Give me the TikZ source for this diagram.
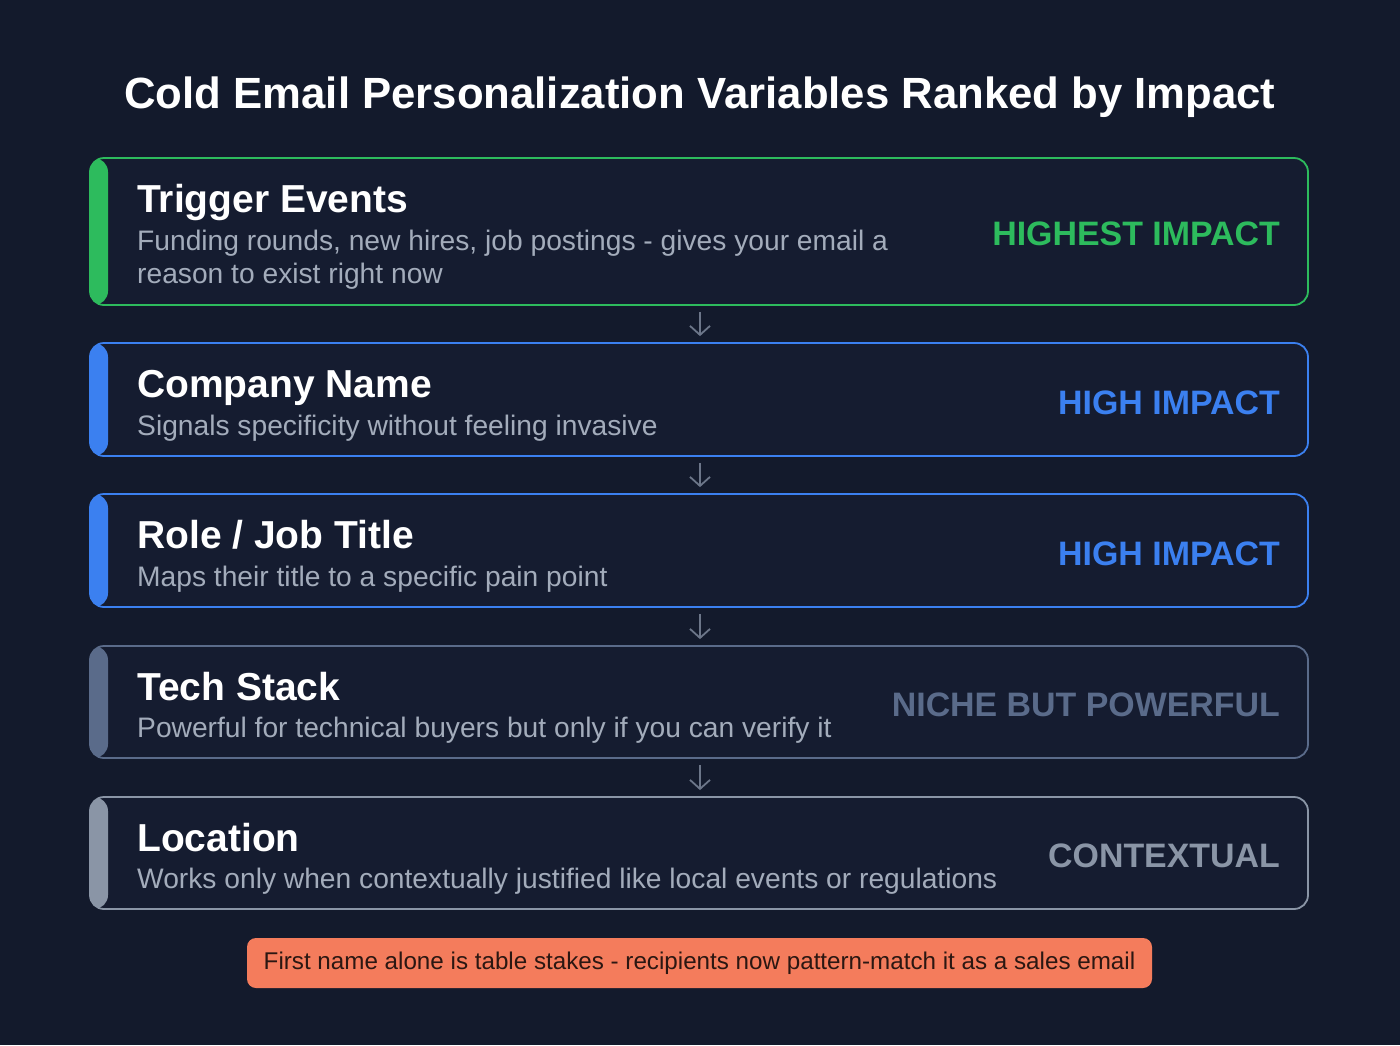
\documentclass[tikz,border=0pt]{standalone}
\usepackage{fontspec}
\setmainfont{Liberation Sans}
\usetikzlibrary{arrows.meta}
\definecolor{bgc}{HTML}{131A2C}
\definecolor{cardbg}{HTML}{151C30}
\definecolor{cgreen}{HTML}{2DBB5D}
\definecolor{cblue}{HTML}{3B80F0}
\definecolor{cslate}{HTML}{5A6B8A}
\definecolor{cgray}{HTML}{8A95A6}
\definecolor{subtxt}{HTML}{A3ACBB}
\definecolor{arrowc}{HTML}{6C7689}
\definecolor{coral}{HTML}{F47C5C}
\definecolor{notetxt}{HTML}{2B1712}
\begin{document}
\begin{tikzpicture}[x=1pt,y=-1pt,
  card/.style={rounded corners=14pt, fill=cardbg, draw=#1, line width=1.8pt,
    path picture={\fill[#1] (path picture bounding box.north west) rectangle ([xshift=18pt]path picture bounding box.south west);}},
  headtxt/.style={anchor=base west, inner sep=0pt, text=white, font=\fontsize{39}{44}\selectfont\bfseries},
  subtext/.style={anchor=base west, inner sep=0pt, text=subtxt, font=\fontsize{28.2}{33.5}\selectfont, align=left},
  tag/.style={anchor=base east, inner sep=0pt, font=\fontsize{33.9}{40}\selectfont\bfseries, text=#1},
  conn/.style={draw=arrowc, line width=1.8pt, -{Straight Barb[length=9pt,width=20pt,line width=1.8pt]}}
]
\fill[bgc] (0,0) rectangle (1400,1045);
\useasboundingbox (0,0) rectangle (1400,1045);

\node[anchor=base, inner sep=0pt, text=white, font=\fontsize{43.7}{50}\selectfont\bfseries] (title) at (700,108) {Cold Email Personalization Variables Ranked by Impact};

\node[card=cgreen, minimum width=1218pt, minimum height=147pt] (b1) at (699,231.5) {};
\node[card=cblue, minimum width=1218pt, minimum height=113pt] (b2) at (699,399.5) {};
\node[card=cblue, minimum width=1218pt, minimum height=113pt] (b3) at (699,550.5) {};
\node[card=cslate, minimum width=1218pt, minimum height=112pt] (b4) at (699,702) {};
\node[card=cgray, minimum width=1218pt, minimum height=112pt] (b5) at (699,853) {};

\node[headtxt] (h1) at (137,212) {Trigger Events};
\node[subtext] (s1a) at (137,250) {Funding rounds, new hires, job postings - gives your email a};
\node[subtext] (s1b) at (137,283) {reason to exist right now};
\node[tag=cgreen] (t1) at (1280,245) {HIGHEST IMPACT};

\node[headtxt] (h2) at (137,397) {Company Name};
\node[subtext] (s2) at (137,435) {Signals specificity without feeling invasive};
\node[tag=cblue] (t2) at (1280,414) {HIGH IMPACT};

\node[headtxt] (h3) at (137,548) {Role / Job Title};
\node[subtext] (s3) at (137,586) {Maps their title to a specific pain point};
\node[tag=cblue] (t3) at (1280,565) {HIGH IMPACT};

\node[headtxt] (h4) at (137,700) {Tech Stack};
\node[subtext] (s4) at (137,737) {Powerful for technical buyers but only if you can verify it};
\node[tag=cslate] (t4) at (1280,716) {NICHE BUT POWERFUL};

\node[headtxt] (h5) at (137,851) {Location};
\node[subtext] (s5) at (137,888) {Works only when contextually justified like local events or regulations};
\node[tag=cgray] (t5) at (1280,867) {CONTEXTUAL};

\draw[conn] ([xshift=1pt,yshift=-6pt]b1.south) -- ([xshift=1pt,yshift=6pt]b2.north);
\draw[conn] ([xshift=1pt,yshift=-6pt]b2.south) -- ([xshift=1pt,yshift=6pt]b3.north);
\draw[conn] ([xshift=1pt,yshift=-6pt]b3.south) -- ([xshift=1pt,yshift=6pt]b4.north);
\draw[conn] ([xshift=1pt,yshift=-6pt]b4.south) -- ([xshift=1pt,yshift=6pt]b5.north);

\node[fill=coral, rounded corners=9pt, minimum width=905pt, minimum height=50pt, inner sep=0pt, text=notetxt, font=\fontsize{24.2}{29}\selectfont] (note) at (699.5,963) {First name alone is table stakes - recipients now pattern-match it as a sales email};
\end{tikzpicture}
\end{document}
